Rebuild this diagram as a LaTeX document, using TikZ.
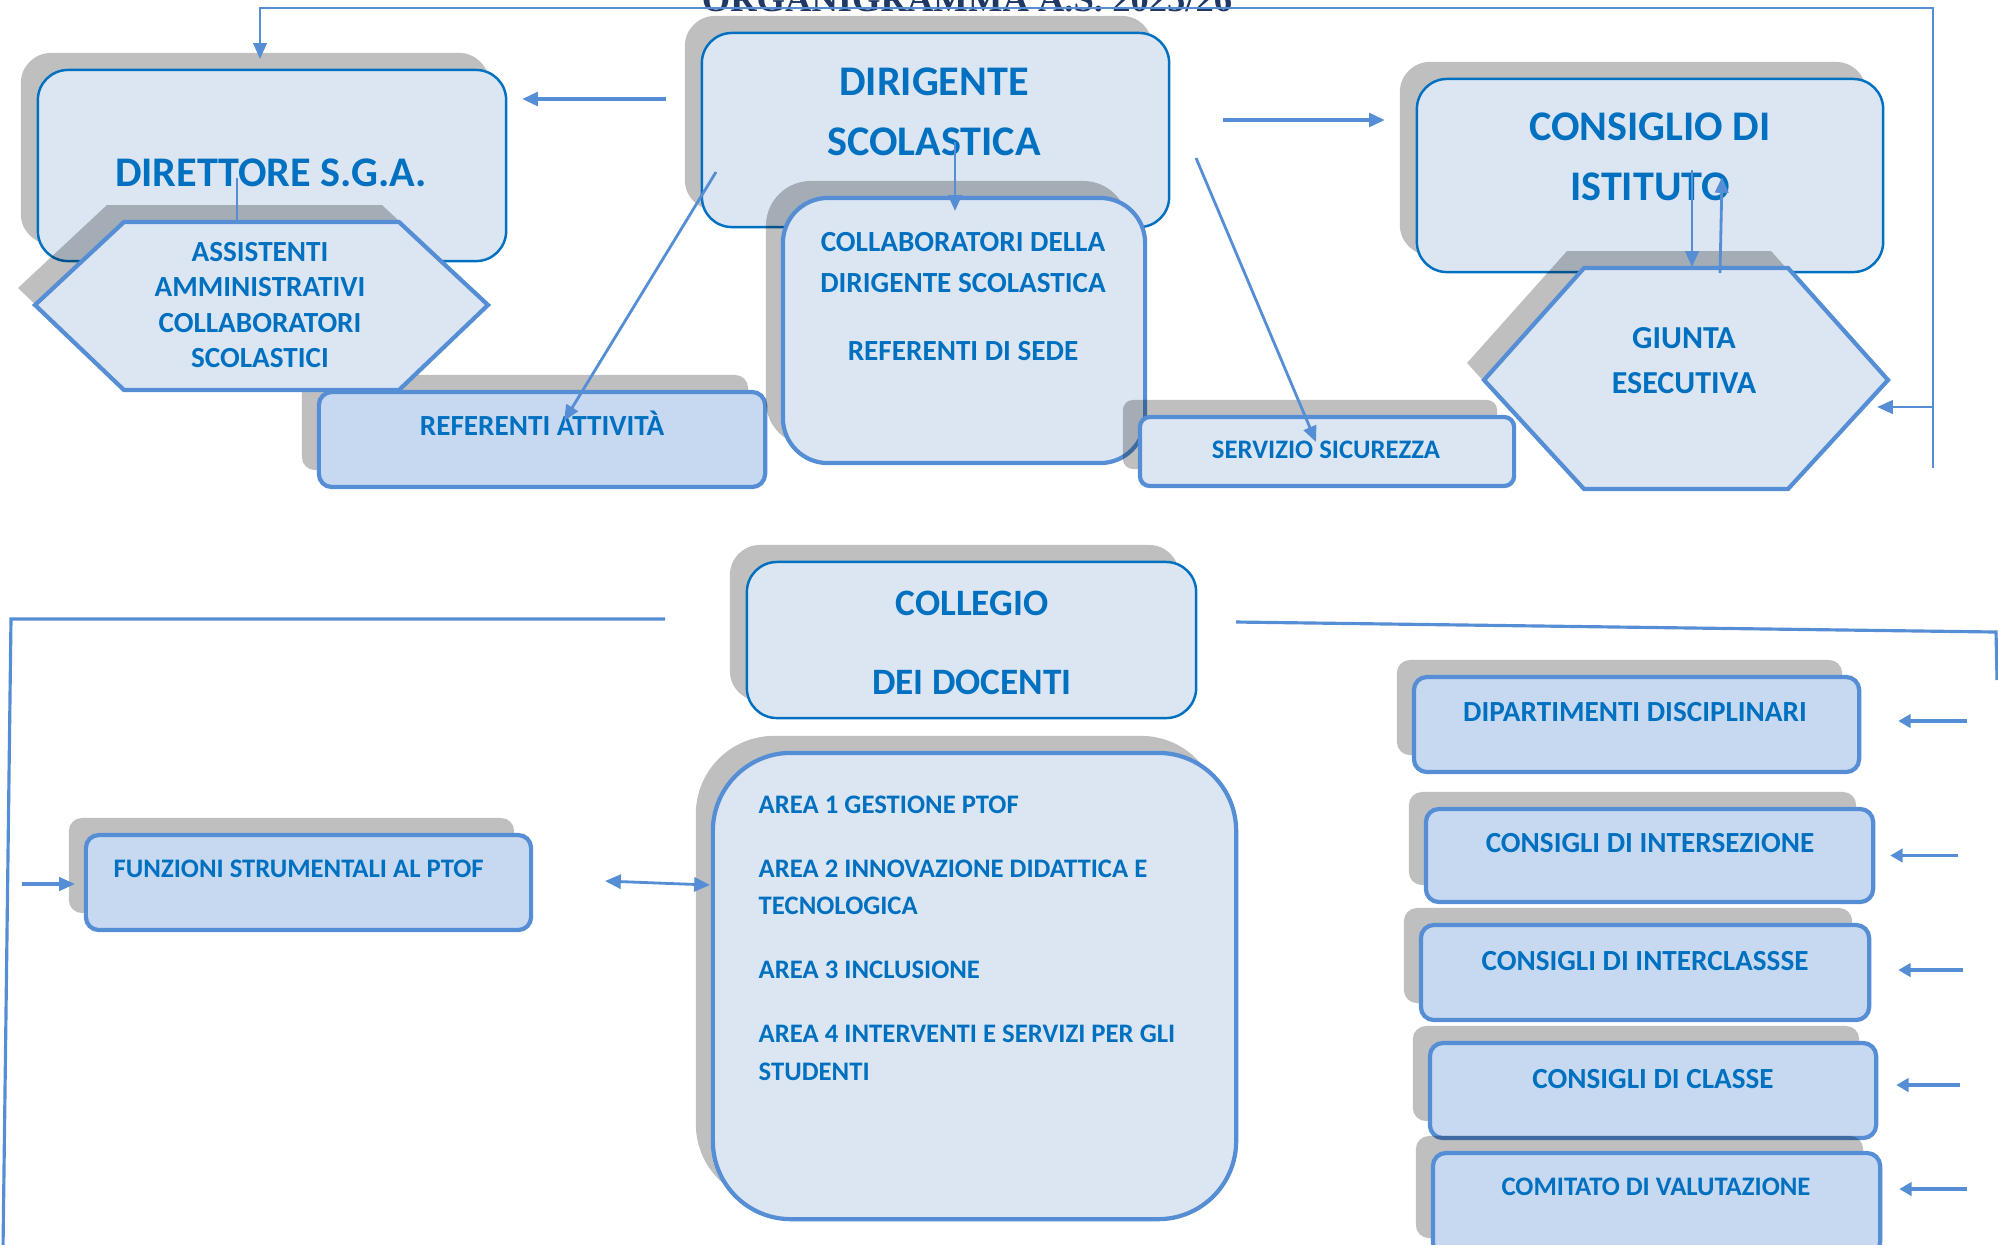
\documentclass[tikz,border=0pt]{standalone}
\usepackage{fontspec}
\setmainfont{Carlito}
\newfontfamily\headfont{Liberation Serif}
\usetikzlibrary{arrows.meta, shadows}
\definecolor{boxfill}{HTML}{DCE6F2}
\definecolor{boxdeep}{HTML}{C6D9F1}
\definecolor{boxdark}{HTML}{0070C0}
\definecolor{boxmid}{HTML}{558ED5}
\definecolor{txtblue}{HTML}{0070C0}
\definecolor{linkblue}{HTML}{558ED5}
\definecolor{titlenavy}{HTML}{1F3864}
\tikzset{
  box/.style={
    rectangle,
    rounded corners=0.3cm,
    draw=boxdark,
    line width=0.7pt,
    fill=boxfill,
    inner sep=0pt,
    drop shadow={shadow xshift=-0.17cm, shadow yshift=0.17cm, fill=black, opacity=0.25}
  },
  panel/.style={box, draw=boxmid, line width=1.2pt},
  tab/.style={panel, rounded corners=0.13cm, fill=boxdeep},
  hexa/.style={
    draw=boxmid,
    line width=1.2pt,
    fill=boxfill,
    drop shadow={shadow xshift=-0.17cm, shadow yshift=0.17cm, fill=black, opacity=0.25}
  },
  lbl/.style={text=txtblue, align=center, inner sep=0pt, font=\bfseries\fontsize{8.3}{11.7}\selectfont},
  small/.style={lbl, font=\bfseries\fontsize{7.6}{10.7}\selectfont},
  biglbl/.style={lbl, font=\bfseries\fontsize{12}{17}\selectfont},
  link/.style={draw=linkblue, line width=0.8pt},
  arrow/.style={link, -{Triangle[length=4.5pt, width=3.8pt]}},
  fatarrow/.style={arrow, line width=1.2pt},
  twoway/.style={link, {Triangle[length=4.5pt, width=4pt]}-{Triangle[length=4.5pt, width=4pt]}}
}
\begin{document}
\begin{tikzpicture}[x=0.01cm, y=-0.01cm]
  \useasboundingbox (0,0) rectangle (1998,1244);
  \node[font=\headfont\bfseries\fontsize{10.4}{12}\selectfont, text=titlenavy, anchor=base, inner sep=0pt] (title) at (967,11) {ORGANIGRAMMA A.S. 2025/26};

  \node[box, minimum width=4.68cm, minimum height=1.91cm] (dsga) at (272,165.5) {};
  \node[tab, minimum width=4.46cm, minimum height=0.95cm] (refatt) at (542,439.5) {};
  \path[hexa] (124,222) -- (399,222) -- (488,305) -- (399,390) -- (124,390) -- (35,305) -- cycle;
  \node[box, minimum width=4.67cm, minimum height=1.94cm] (ds) at (935.5,130) {};
  \node[panel, rounded corners=0.45cm, minimum width=3.62cm, minimum height=2.65cm] (coll) at (964,330.5) {};
  \node[panel, rounded corners=0.1cm, minimum width=3.74cm, minimum height=0.69cm] (sicur) at (1327,451.5) {};
  \node[box, minimum width=4.66cm, minimum height=1.93cm] (cdi) at (1650,175.5) {};
  \path[hexa] (1584,268) -- (1788,268) -- (1888,380) -- (1788,489) -- (1584,489) -- (1484,380) -- cycle;

  \node[biglbl] (dsgaT) at (271,173) {DIRETTORE S.G.A.};
  \node[lbl, font=\bfseries\fontsize{8.3}{10.1}\selectfont] (assT) at (260,305) {ASSISTENTI\\AMMINISTRATIVI\\COLLABORATORI\\SCOLASTICI};
  \node[biglbl] (dsT) at (934,112) {DIRIGENTE\\SCOLASTICA};
  \node[lbl] (collT) at (963,296.5) {COLLABORATORI DELLA\\DIRIGENTE SCOLASTICA\\[7.7pt]REFERENTI DI SEDE};
  \node[lbl] (refattT) at (542,423) {REFERENTI ATTIVITÀ};
  \node[small] (sicurT) at (1326,450) {SERVIZIO SICUREZZA};
  \node[biglbl] (cdiT) at (1650,157) {CONSIGLIO DI\\ISTITUTO};
  \node[lbl, font=\bfseries\fontsize{9.1}{12.8}\selectfont] (giuntaT) at (1684,360.5) {GIUNTA\\ESECUTIVA};

  \node[box, minimum width=4.49cm, minimum height=1.56cm] (cdd) at (971.5,640) {};
  \node[panel, rounded corners=0.78cm, minimum width=5.23cm, minimum height=4.66cm] (aree) at (974.5,986) {};
  \node[tab, minimum width=4.45cm, minimum height=0.95cm] (fs) at (308.5,882.5) {};
  \node[tab, minimum width=4.45cm, minimum height=0.95cm] (dip) at (1636.5,724.5) {};
  \node[tab, minimum width=4.47cm, minimum height=0.93cm] (inters) at (1649.5,855.5) {};
  \node[tab, minimum width=4.48cm, minimum height=0.95cm] (intercl) at (1645,972.5) {};
  \node[tab, minimum width=4.46cm, minimum height=0.95cm] (classe) at (1653,1090.5) {};
  \node[tab, minimum width=4.47cm, minimum height=1.02cm] (comit) at (1656.5,1204) {};

  \node[lbl, font=\bfseries\fontsize{10.6}{22.5}\selectfont] (cddT) at (972,643) {COLLEGIO\\DEI DOCENTI};
  \node[small, align=left, anchor=north west] (areeT) at (758,795) {AREA 1 GESTIONE PTOF\\[7.5pt]AREA 2 INNOVAZIONE DIDATTICA E\\TECNOLOGICA\\[7.5pt]AREA 3 INCLUSIONE\\[7.5pt]AREA 4 INTERVENTI E SERVIZI PER GLI\\STUDENTI};
  \node[small, anchor=west] (fsT) at (113,869) {FUNZIONI STRUMENTALI AL PTOF};
  \node[lbl] (dipT) at (1635,712) {DIPARTIMENTI DISCIPLINARI};
  \node[lbl] (intersT) at (1650,843) {CONSIGLI DI INTERSEZIONE};
  \node[lbl] (interclT) at (1645,961) {CONSIGLI DI INTERCLASSSE};
  \node[lbl] (classeT) at (1653,1079) {CONSIGLI DI CLASSE};
  \node[small] (comitT) at (1656,1187) {COMITATO DI VALUTAZIONE};

  \coordinate (loopS) at (1933,468);
  \coordinate (loopN) at (1933,8);
  \coordinate (dsgaIn) at (260,59);
  \coordinate (loopG) at (1933,407);
  \coordinate (giuntaIn) at (1877,407);
  \coordinate (dsW) at (666,99);
  \coordinate (dsgaE) at (522,99);
  \coordinate (dsE) at (1223,120);
  \coordinate (cdiW) at (1385,120);
  \coordinate (dsDown) at (955,142);
  \coordinate (collIn) at (955,211);
  \coordinate (dsSW) at (716,172);
  \coordinate (refattIn) at (564,421);
  \coordinate (dsSE) at (1196,158);
  \coordinate (sicurIn) at (1316,442);
  \coordinate (dsgaDown) at (237,178);
  \coordinate (assTop) at (237,220);
  \coordinate (cdiDown) at (1692,170);
  \coordinate (giuntaTop) at (1692,267);
  \coordinate (giuntaUp) at (1720,273);
  \coordinate (cdiIn) at (1722,177);

  \draw[arrow, line width=0.65pt] (loopS) -- (loopN) -| (dsgaIn);
  \draw[arrow] (loopG) -- (giuntaIn);
  \draw[fatarrow] (dsW) -- (dsgaE);
  \draw[fatarrow] (dsE) -- (cdiW);
  \draw[arrow] (dsDown) -- (collIn);
  \draw[arrow] (dsSW) -- (refattIn);
  \draw[arrow] (dsSE) -- (sicurIn);
  \draw[link] (dsgaDown) -- (assTop);
  \draw[arrow] (cdiDown) -- (giuntaTop);
  \draw[arrow] (giuntaUp) -- (cdiIn);

  \coordinate (cddL) at (665,619);
  \coordinate (cornerL) at (11,619);
  \coordinate (footL) at (3,1250);
  \coordinate (fsFrom) at (22,884);
  \coordinate (fsIn) at (75,884);
  \coordinate (cddR) at (1236,622);
  \coordinate (cornerR) at (1996,632);
  \coordinate (footR) at (1997,680);
  \coordinate (fsOut) at (605,881);
  \coordinate (areeIn) at (710,885);

  \draw[link, line width=0.9pt] (cddL) -- (cornerL) -- (footL);
  \draw[arrow, line width=0.9pt] (fsFrom) -- (fsIn);
  \draw[link, line width=0.9pt] (cddR) -- (cornerR) -- (footR);
  \draw[twoway] (fsOut) -- (areeIn);
  \foreach \n/\a/\b/\dy in {dip/1.06/0.37/0.035, inters/0.83/0.15/0, intercl/0.92/0.27/0.025, classe/0.82/0.18/0.055, comit/0.85/0.17/0.15}
    \draw[arrow, line width=0.9pt, -{Triangle[length=3.5pt, width=3.8pt]}] ([xshift=\a cm, yshift=\dy cm]\n.east) -- ([xshift=\b cm, yshift=\dy cm]\n.east);
\end{tikzpicture}
\end{document}
